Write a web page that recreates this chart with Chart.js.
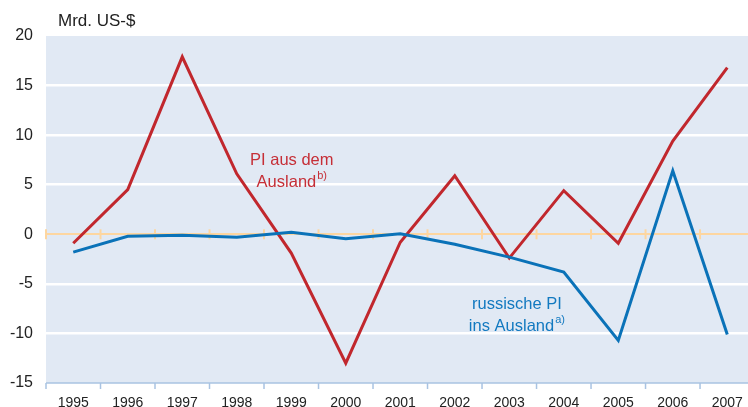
<!DOCTYPE html>
<html>
<head>
<meta charset="utf-8">
<script src="https://cdn.jsdelivr.net/npm/chart.js@4/dist/chart.umd.min.js"></script>
<style>
  html, body { margin: 0; padding: 0; background: #fff; }
  #wrap { width: 748px; height: 407px; }
</style>
</head>
<body>
<div id="wrap"><canvas id="piChart" width="748" height="407"></canvas></div>
<script>
const years = ["1995", "1996", "1997", "1998", "1999", "2000", "2001", "2002", "2003", "2004", "2005", "2006", "2007"];
const piAusDemAusland = [-0.9, 4.5, 17.9, 6.1, -1.9, -13.0, -0.8, 5.9, -2.4, 4.4, -0.9, 9.4, 16.8];
const russischePiInsAusland = [-1.8, -0.2, -0.1, -0.3, 0.2, -0.45, 0.05, -1.0, -2.3, -3.8, -10.7, 6.4, -10.1];
const yTicks = [-15, -10, -5, 0, 5, 10, 15, 20];

const red = "#c1272d";
const blue = "#0a72b8";
const font = "'Liberation Sans', Arial, sans-serif";

function toPoints(values) {
    return values.map(function (v, i) { return { x: i, y: v }; });
}

const framePlugin = {
    id: "frame",
    beforeDraw: function (chart) {
        const a = chart.chartArea;
        const ctx = chart.ctx;
        ctx.save();
        ctx.fillStyle = "#e1e9f4";
        ctx.fillRect(a.left, a.top, a.right - a.left, a.bottom - a.top);
        ctx.restore();
    },
    beforeDatasetsDraw: function (chart) {
        const a = chart.chartArea;
        const ctx = chart.ctx;
        const x = chart.scales.x;
        const y = chart.scales.y;
        const zero = y.getPixelForValue(0);
        ctx.save();
        // bottom axis line
        ctx.strokeStyle = "#a9c3e2";
        ctx.lineWidth = 1.5;
        ctx.beginPath();
        ctx.moveTo(a.left, a.bottom);
        ctx.lineTo(a.right, a.bottom);
        ctx.stroke();
        for (let i = 0; i <= years.length; i++) {
            const px = x.getPixelForValue(i - 0.5);
            if (px > a.right) continue;
            ctx.strokeStyle = "#a9c3e2";
            ctx.lineWidth = 1.5;
            ctx.beginPath();
            ctx.moveTo(px, a.bottom);
            ctx.lineTo(px, a.bottom + 6);
            ctx.stroke();
            ctx.strokeStyle = "#fdd6a0";
            ctx.lineWidth = 2;
            ctx.beginPath();
            ctx.moveTo(px, zero - 5);
            ctx.lineTo(px, zero + 5);
            ctx.stroke();
        }
        ctx.restore();
    },
    afterDraw: function (chart) {
        const ctx = chart.ctx;
        const x = chart.scales.x;
        const y = chart.scales.y;
        ctx.save();
        ctx.fillStyle = "#222";
        ctx.font = "17px " + font;
        ctx.textAlign = "left";
        ctx.textBaseline = "middle";
        ctx.fillText("Mrd. US-$", 58, 21);

        // two-line label, second line carries a footnote mark; both lines centred
        function label(lines, sup, xv, yv, color) {
            ctx.fillStyle = color;
            ctx.textBaseline = "middle";
            const cx = x.getPixelForValue(xv);
            const cy = y.getPixelForValue(yv);
            ctx.font = "16.5px " + font;
            ctx.textAlign = "center";
            ctx.fillText(lines[0], cx, cy);
            const w = ctx.measureText(lines[1]).width;
            ctx.font = "11px " + font;
            const ws = ctx.measureText(sup).width + 1;
            const left = cx - (w + ws) / 2;
            ctx.textAlign = "left";
            ctx.font = "16.5px " + font;
            ctx.fillText(lines[1], left, cy + 22);
            ctx.font = "11px " + font;
            ctx.fillText(sup, left + w + 1, cy + 15);
        }
        label(["PI aus dem", "Ausland"], "b)", 4.01, 7.4, "#c62f37");
        label(["russische PI", "ins Ausland"], "a)", 8.14, -7.1, "#1279c0");
        ctx.restore();
    }
};

new Chart(document.getElementById("piChart"), {
    type: "line",
    data: {
        datasets: [{
            label: "PI aus dem Ausland",
            data: toPoints(piAusDemAusland),
            borderColor: red,
            borderWidth: 3,
            pointRadius: 0,
            tension: 0,
            order: 2
        }, {
            label: "russische PI ins Ausland",
            data: toPoints(russischePiInsAusland),
            borderColor: blue,
            borderWidth: 3,
            pointRadius: 0,
            tension: 0,
            order: 1
        }]
    },
    options: {
        responsive: false,
        animation: false,
        layout: { padding: { top: 36, right: 0, left: 0, bottom: 0 } },
        plugins: {
            legend: { display: false },
            tooltip: { enabled: false }
        },
        scales: {
            x: {
                type: "linear",
                min: -0.5,
                max: 12.38,
                afterBuildTicks: function (scale) {
                    scale.ticks = years.map(function (y, i) { return { value: i }; });
                },
                afterFit: function (scale) { scale.height = 24; },
                grid: { display: false },
                border: { display: false },
                ticks: {
                    color: "#222",
                    font: { family: font, size: 14 },
                    padding: 4,
                    maxRotation: 0,
                    autoSkip: false,
                    callback: function (v) { return years[v]; }
                }
            },
            y: {
                min: -15,
                max: 20,
                afterBuildTicks: function (scale) {
                    scale.ticks = yTicks.map(function (v) { return { value: v }; });
                },
                afterFit: function (scale) { scale.width = 46; },
                border: { display: false },
                grid: {
                    drawTicks: false,
                    lineWidth: function (c) { return c.tick && c.tick.value === 0 ? 2 : 2.5; },
                    color: function (c) {
                        if (!c.tick) return "transparent";
                        if (c.tick.value === 0) return "#fdd6a0";
                        if (c.tick.value === 20 || c.tick.value === -15) return "transparent";
                        return "#ffffff";
                    }
                },
                ticks: {
                    color: "#222",
                    font: { family: font, size: 16 },
                    padding: 13
                }
            }
        }
    },
    plugins: [framePlugin]
});
</script>
</body>
</html>
